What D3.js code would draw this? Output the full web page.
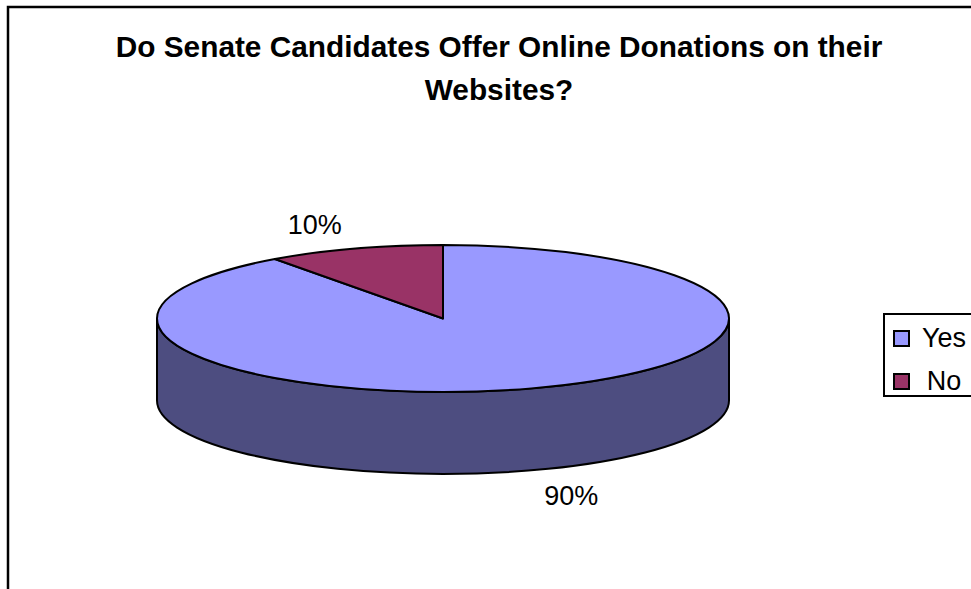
<!DOCTYPE html>
<html>
<head>
<meta charset="utf-8">
<script src="https://cdn.jsdelivr.net/npm/d3@7"></script>
<style>
  html, body { margin: 0; padding: 0; background: #fff; }
  svg { display: block; font-family: Arial, "Liberation Sans", sans-serif; }
</style>
</head>
<body>
<svg id="chart" width="971" height="589"></svg>
<script>
// Survey result: share of Senate candidate websites offering online donations
const categories = ["Yes", "No"];
const values = [90, 10];
const topColors = ["#9999ff", "#993366"];
const sideColors = ["#4d4d80", "#4d1a33"];
const titleLines = ["Do Senate Candidates Offer Online Donations on their", "Websites?"];

const svg = d3.select("#chart");
const W = 971, H = 589;

// chart area frame (runs off the right and bottom edges)
svg.append("rect")
  .attr("x", 8).attr("y", 7)
  .attr("width", W + 20).attr("height", H + 20)
  .attr("fill", "#fff").attr("stroke", "#000").attr("stroke-width", 2.5);

// title
svg.append("text")
  .attr("x", 499).attr("y", 57)
  .attr("text-anchor", "middle")
  .attr("font-size", 29.8).attr("font-weight", "bold")
  .selectAll("tspan").data(titleLines).join("tspan")
  .attr("x", 499).attr("dy", (d, i) => i === 0 ? 0 : 43)
  .text(d => d);

// 3D pie geometry
const cx = 443, cy = 318.5, rx = 286, ry = 73.5, depth = 82;

const pie = d3.pie().sort(null).value(d => d.value);
const arcs = pie(categories.map((c, i) => ({ name: c, value: values[i], i })));

const px = a => cx + rx * Math.sin(a);
const py = a => cy - ry * Math.cos(a);

// side walls: only the front half (angles PI/2 .. 3PI/2) is visible
const sideLayer = svg.append("g");
arcs.forEach(a => {
  const a0 = Math.max(a.startAngle, Math.PI / 2);
  const a1 = Math.min(a.endAngle, 3 * Math.PI / 2);
  if (a1 <= a0) return;
  const large = (a1 - a0) > Math.PI ? 1 : 0;
  const d = `M${px(a0)},${py(a0)} A${rx},${ry} 0 ${large} 1 ${px(a1)},${py(a1)} ` +
            `L${px(a1)},${py(a1) + depth} A${rx},${ry} 0 ${large} 0 ${px(a0)},${py(a0) + depth} Z`;
  sideLayer.append("path")
    .attr("d", d)
    .attr("fill", sideColors[a.data.i])
    .attr("stroke", "#000").attr("stroke-width", 2)
    .attr("stroke-linejoin", "round");
});

// top faces: circular arcs squashed into an ellipse
const arcGen = d3.arc().innerRadius(0).outerRadius(rx);
const faceLayer = svg.append("g")
  .attr("transform", `translate(${cx},${cy}) scale(1,${ry / rx})`);
faceLayer.selectAll("path").data(arcs).join("path")
  .attr("d", arcGen)
  .attr("fill", d => topColors[d.data.i])
  .attr("stroke", "#000").attr("stroke-width", 2)
  .attr("stroke-linejoin", "round")
  .attr("vector-effect", "non-scaling-stroke");

// percentage labels placed outside the ellipse at each slice's mid angle
const total = d3.sum(values);
const lrx = rx * 1.45, lry = ry * 1.35;
svg.append("g").selectAll("text").data(arcs).join("text")
  .attr("x", d => cx + lrx * Math.sin((d.startAngle + d.endAngle) / 2))
  .attr("y", d => {
    const m = (d.startAngle + d.endAngle) / 2;
    const y = cy - lry * Math.cos(m);
    return Math.cos(m) < 0 ? y + depth : y;
  })
  .attr("dy", "0.36em")
  .attr("text-anchor", "middle")
  .attr("font-size", 27)
  .attr("fill", "#000")
  .text(d => Math.round(d.data.value / total * 100) + "%");

// legend (box runs off the right edge)
const legend = svg.append("g");
legend.append("rect")
  .attr("x", 884).attr("y", 314)
  .attr("width", 120).attr("height", 82)
  .attr("fill", "#fff").attr("stroke", "#000").attr("stroke-width", 2);
const items = legend.selectAll("g.item").data(categories).join("g")
  .attr("class", "item")
  .attr("transform", (d, i) => `translate(0,${i * 43})`);
items.append("rect")
  .attr("x", 894).attr("y", 331)
  .attr("width", 15).attr("height", 15)
  .attr("fill", (d, i) => topColors[i])
  .attr("stroke", "#000").attr("stroke-width", 2);
items.append("text")
  .attr("x", 944).attr("y", 347)
  .attr("text-anchor", "middle")
  .attr("font-size", 27)
  .text(d => d);
</script>
</body>
</html>
